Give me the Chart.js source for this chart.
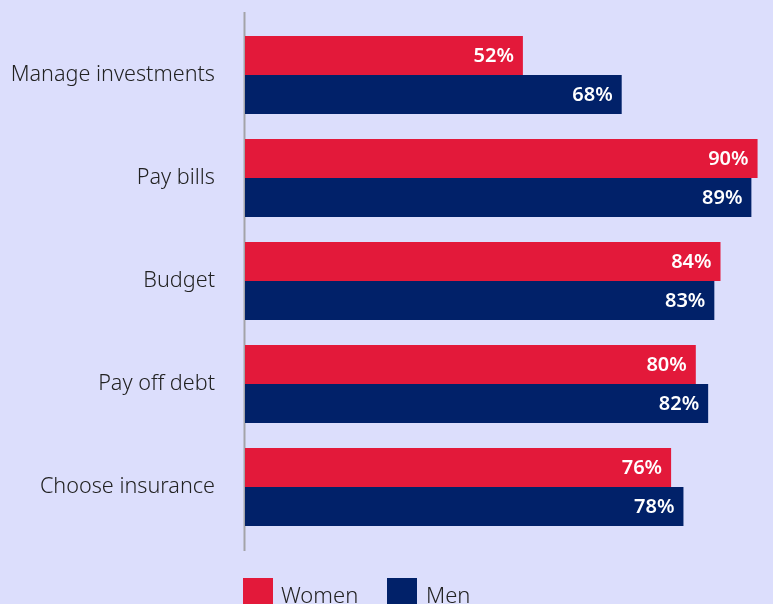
<!DOCTYPE html>
<html>
<head>
<meta charset="utf-8">
<script src="https://cdn.jsdelivr.net/npm/chart.js@4/dist/chart.umd.min.js"></script>
<style>
  html, body { margin: 0; padding: 0; background: #dcdefc; overflow: hidden; }
  #wrap { position: relative; width: 773px; height: 604px; }
  canvas { position: absolute; left: 0; top: 0; }
  .leg { position: absolute; top: 578px; height: 30px; font-family: "Noto Sans", sans-serif; font-size: 22px; color: #222; }
  .sw { position: absolute; top: 0; width: 30px; height: 30px; }
  .lt { position: absolute; top: 0px; line-height: 30px; white-space: nowrap; }
</style>
</head>
<body>
<div id="wrap">
  <canvas id="c" width="773" height="604"></canvas>
  <div id="legend"></div>
</div>
<script>
const categories = ["Manage investments", "Pay bills", "Budget", "Pay off debt", "Choose insurance"];
const seriesNames = ["Women", "Men"];
const women = [52, 90, 84, 80, 76];
const men = [68, 89, 83, 82, 78];
const colors = ["#e3193a", "#012169"];

const FONT = '"Noto Sans", sans-serif';

const axisLinePlugin = {
  id: 'axisLine',
  beforeDatasetsDraw(chart) {
    const {ctx, chartArea} = chart;
    ctx.save();
    ctx.strokeStyle = '#a3a3a8';
    ctx.lineWidth = 2;
    ctx.beginPath();
    ctx.moveTo(chartArea.left - 0.5, chartArea.top - 11.5);
    ctx.lineTo(chartArea.left - 0.5, chartArea.bottom + 12.5);
    ctx.stroke();
    ctx.restore();
  }
};

const valueLabelPlugin = {
  id: 'valueLabels',
  afterDatasetsDraw(chart) {
    const {ctx} = chart;
    ctx.save();
    ctx.fillStyle = '#ffffff';
    ctx.font = '600 20px ' + FONT;
    ctx.textAlign = 'right';
    ctx.textBaseline = 'middle';
    chart.data.datasets.forEach((ds, di) => {
      const meta = chart.getDatasetMeta(di);
      meta.data.forEach((bar, i) => {
        const x = Math.min(bar.x, chart.width);
        ctx.fillText(ds.data[i] + '%', x - 9, bar.y + 1);
      });
    });
    ctx.restore();
  }
};

new Chart(document.getElementById('c'), {
  type: 'bar',
  data: {
    labels: categories,
    datasets: [
      { label: seriesNames[0], data: women, backgroundColor: colors[0] },
      { label: seriesNames[1], data: men, backgroundColor: colors[1] }
    ]
  },
  options: {
    indexAxis: 'y',
    responsive: false,
    animation: false,
    layout: { padding: { top: 23.5, bottom: 65.5, left: 0, right: 0 } },
    datasets: { bar: { categoryPercentage: 78 / 103, barPercentage: 1.0, borderWidth: 0 } },
    scales: {
      x: {
        display: false,
        min: 7,
        max: 92.5
      },
      y: {
        grid: { display: false, drawTicks: false },
        border: { display: false },
        ticks: { color: '#222222', font: { family: FONT, size: 21.6, weight: '300' }, padding: 30 },
        afterFit(scale) {
          scale.width = 245;
          scale.paddingTop = 0;
          scale.paddingBottom = 0;
        }
      }
    },
    plugins: {
      legend: { display: false },
      tooltip: { enabled: false }
    }
  },
  plugins: [axisLinePlugin, valueLabelPlugin]
});

// HTML legend
const legendEl = document.getElementById('legend');
const legPos = [{sw: 243, tx: 281}, {sw: 387, tx: 426}];
seriesNames.forEach((name, i) => {
  const sw = document.createElement('div');
  sw.className = 'leg';
  sw.style.left = legPos[i].sw + 'px';
  sw.innerHTML = '<div class="sw" style="background:' + colors[i] + '"></div>';
  legendEl.appendChild(sw);
  const t = document.createElement('div');
  t.className = 'leg';
  t.style.left = legPos[i].tx + 'px';
  t.innerHTML = '<span class="lt" style="top:1px;font-weight:300">' + name + '</span>';
  legendEl.appendChild(t);
});
</script>
</body>
</html>
